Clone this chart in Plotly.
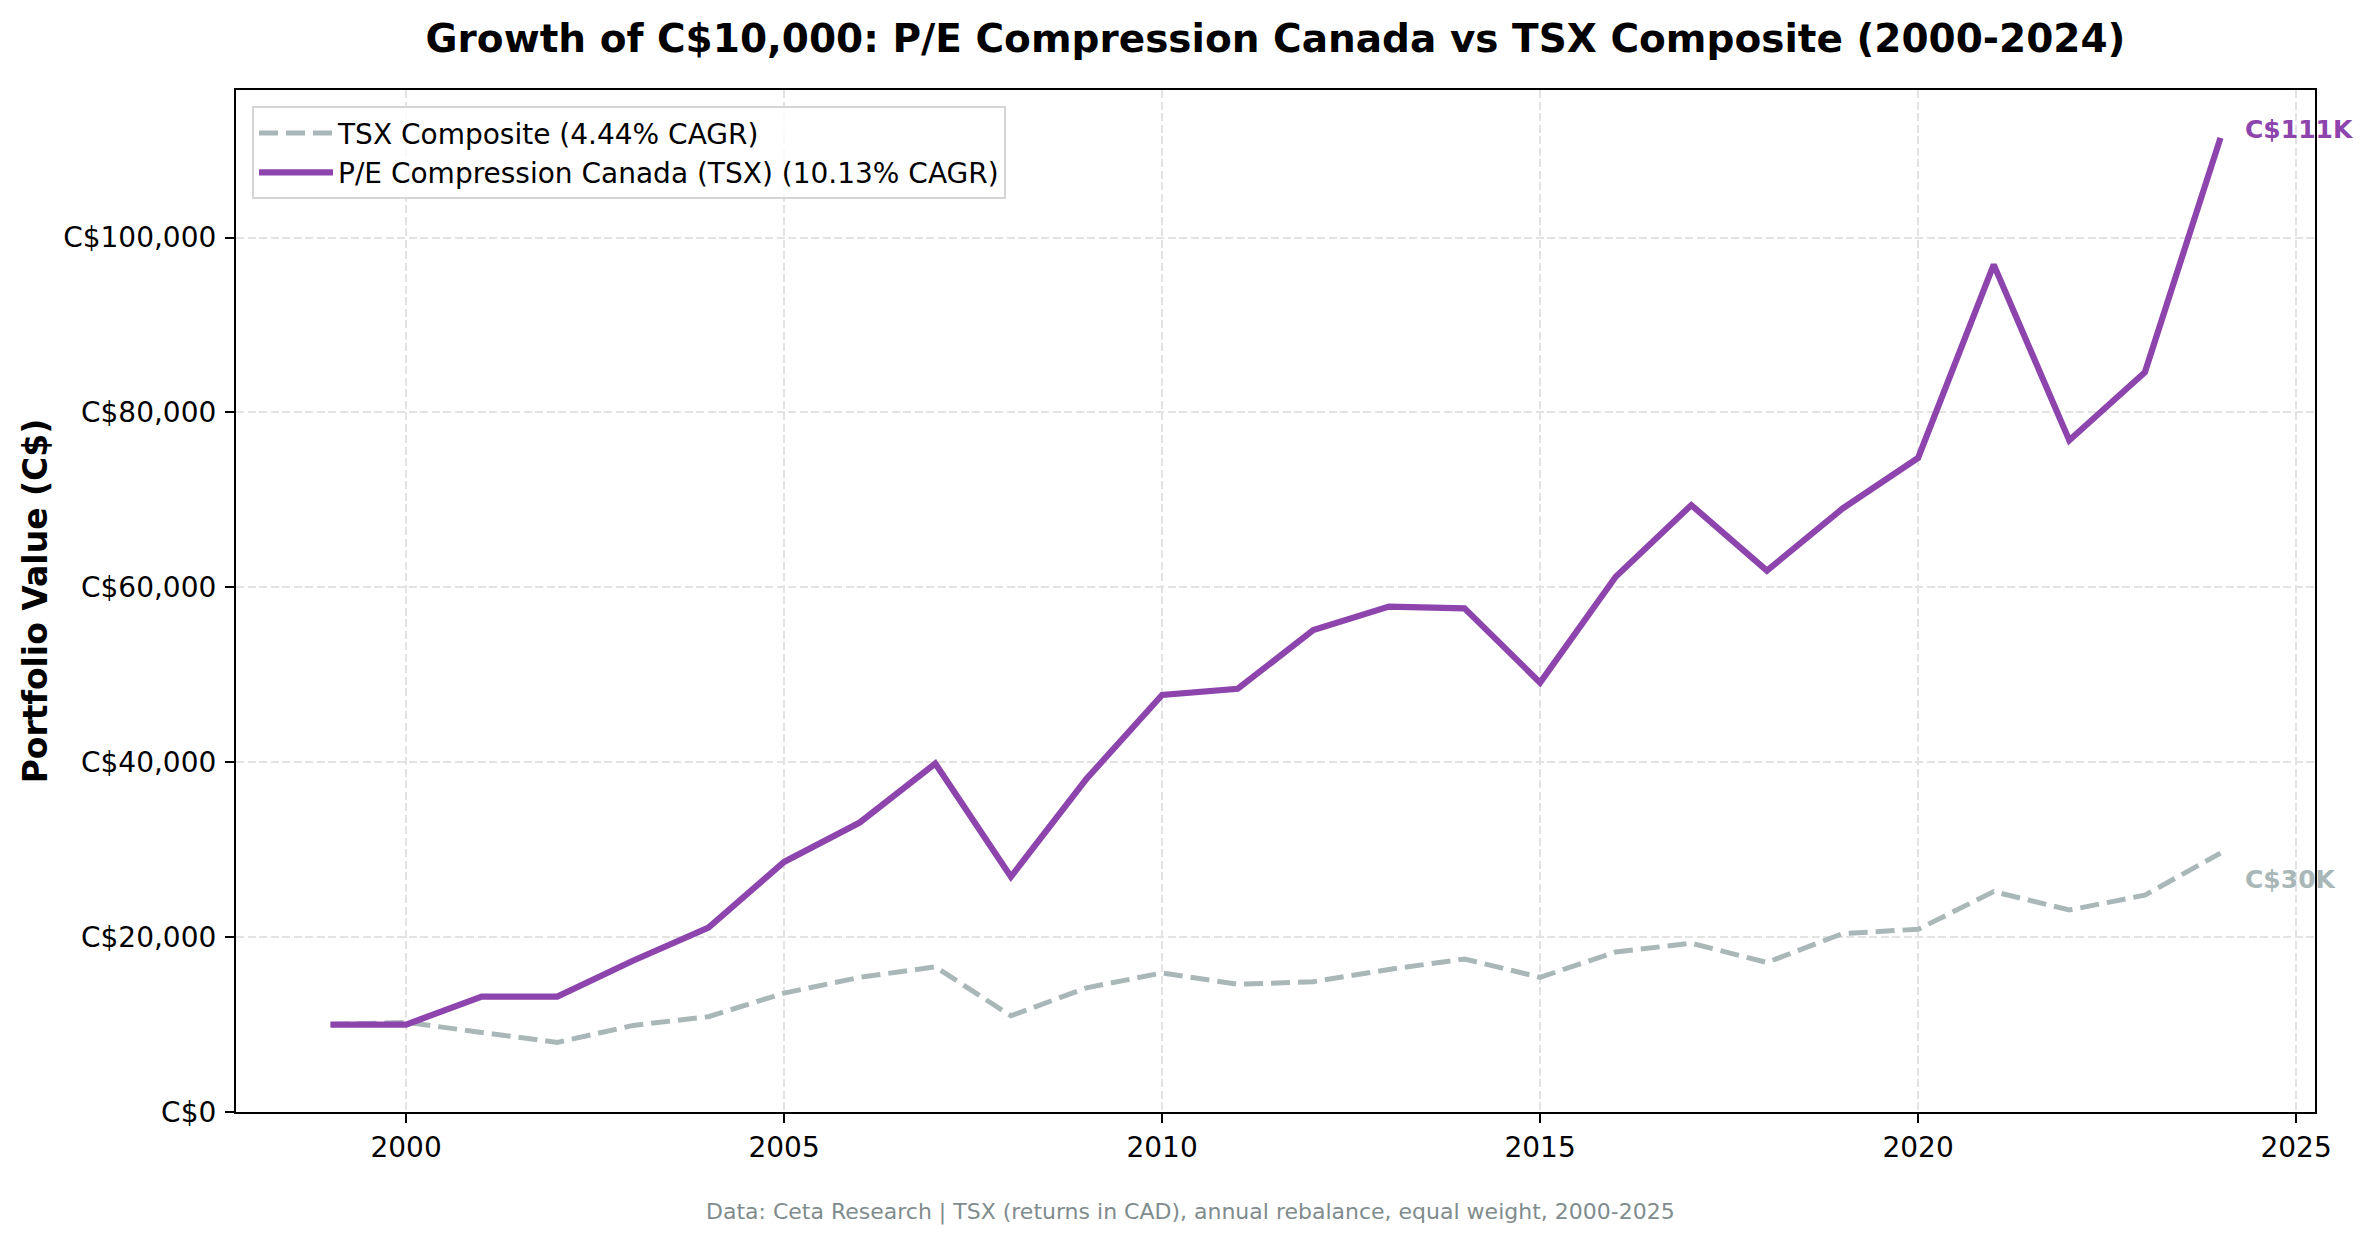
"""
Growth of C$10,000: P/E Compression Canada vs TSX Composite, redrawn with plotly.
"""
import plotly.graph_objects as go

# year-end values (C$)
years = list(range(1999, 2025))
pe_values = [10000, 10000, 13200, 13200, 17300, 21100, 28600, 33100, 39850, 26900,
             38100, 47700, 48400, 55100, 57800, 57600, 49100, 61200, 69400, 61900,
             69000, 74800, 96900, 76800, 84600, 111400]
tsx_values = [10000, 10250, 9100, 7960, 9900, 10900, 13600, 15400, 16600, 11000,
              14200, 15900, 14600, 14900, 16300, 17500, 15400, 18300, 19300, 17100,
              20400, 20900, 25200, 23100, 24800, 29600]
pe_name = "P/E Compression Canada (TSX) (10.13% CAGR)"
tsx_name = "TSX Composite (4.44% CAGR)"
x_ticks = [2000, 2005, 2010, 2015, 2020, 2025]
y_ticks = [0, 20000, 40000, 60000, 80000, 100000]
y_tick_text = ["C$0", "C$20,000", "C$40,000", "C$60,000", "C$80,000", "C$100,000"]

PURPLE = "#8e44ad"
GRAY = "#aab7b8"
FONT = "DejaVu Sans"


def end_label(fig, x, y, text, color, yshift):
    fig.add_annotation(
        x=x, y=y, xref="x", yref="y",
        text=text, showarrow=False,
        xanchor="left", yanchor="middle",
        xshift=22, yshift=yshift,
        font=dict(family=FONT, size=25, color=color, weight="bold"),
    )


fig = go.Figure()
fig.add_trace(go.Scatter(
    x=years, y=tsx_values, mode="lines", name=tsx_name,
    line=dict(color=GRAY, width=5, dash="19px,8px"),
))
fig.add_trace(go.Scatter(
    x=years, y=pe_values, mode="lines", name=pe_name,
    line=dict(color=PURPLE, width=6.2),
))

end_label(fig, years[-1], pe_values[-1], "C$111K", PURPLE, 8)
end_label(fig, years[-1], tsx_values[-1], "C$30K", GRAY, -26)

fig.add_annotation(
    x=0.459, y=-0.098, xref="paper", yref="paper",
    text="Data: Ceta Research | TSX (returns in CAD), annual rebalance, equal weight, 2000-2025",
    showarrow=False, xanchor="center", yanchor="middle",
    font=dict(family=FONT, size=22, color="#7f8c8d"),
)

axis_common = dict(
    showline=True, linecolor="black", linewidth=2.2, mirror=True,
    ticks="outside", ticklen=9, tickwidth=2.2, tickcolor="black",
    showgrid=True, gridcolor="#e3e3e3", gridwidth=1.6, griddash="8px,3.5px",
    zeroline=False,
    tickfont=dict(family=FONT, size=28, color="black"),
)

fig.update_xaxes(range=[1997.75, 2025.25], tickvals=x_ticks,
                 ticklabelstandoff=0, **axis_common)
fig.update_yaxes(
    range=[0, 116870], tickvals=y_ticks, ticktext=y_tick_text,
    ticklabelstandoff=3,
    title=dict(text="Portfolio Value (C$)", standoff=6,
               font=dict(family=FONT, size=33, color="black", weight="bold")),
    **axis_common,
)

fig.update_layout(
    width=2370, height=1239,
    margin=dict(l=236, r=55, t=90, b=127),
    paper_bgcolor="white", plot_bgcolor="white",
    font=dict(family=FONT, color="black"),
    title=dict(
        text="Growth of C$10,000: P/E Compression Canada vs TSX Composite (2000-2024)",
        x=0.5, xref="paper", xanchor="center",
        y=1 - 38 / 1239, yref="container", yanchor="middle",
        font=dict(family=FONT, size=39, color="black", weight="bold"),
    ),
    legend=dict(
        x=0.0077, y=0.984, xanchor="left", yanchor="top",
        bgcolor="rgba(255,255,255,0.8)", bordercolor="#d5d5d5", borderwidth=2,
        itemwidth=74,
        font=dict(family=FONT, size=28, color="black"),
    ),
    showlegend=True,
)

# the page's default body margin would push the figure 8px off
fig.write_html("out.html", config={"displayModeBar": False},
               post_script="document.body.style.margin='0px';")
